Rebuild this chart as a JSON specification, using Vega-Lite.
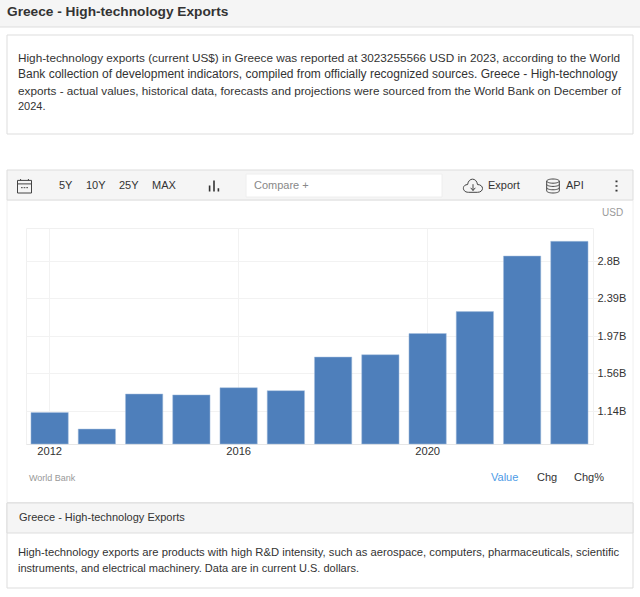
{
  "$schema": "https://vega.github.io/schema/vega-lite/v6.json",
  "width": 567,
  "height": 216,
  "autosize": {"type": "none"},
  "padding": {"left": 26, "top": 228, "right": 47, "bottom": 153},
  "background": "#ffffff",
  "view": {"stroke": "#f0f0f0", "fill": "#ffffff"},
  "config": {
    "font": "Liberation Sans",
    "text": {"font": "Liberation Sans", "fontSize": 11, "color": "#333333", "align": "left", "baseline": "middle"},
    "point": {"filled": false, "opacity": 1}
  },
  "resolve": {"scale": {"x": "independent", "y": "independent"}},
  "layer": [
    {
      "data": {"values": [{"page": "chrome"}]},
      "layer": [
        {"mark": {"type": "rect", "opacity": 0}, "encoding": {
          "x": {"datum": -10, "axis": null, "scale": {"domain": [-10, 650], "range": [-36, 624], "nice": false, "zero": false}},
          "x2": {"datum": 650},
          "y": {"datum": -10, "axis": null, "scale": {"domain": [-10, 600], "range": [-238, 372], "nice": false, "zero": false}},
          "y2": {"datum": 600}}},
        {"mark": {"type": "rect", "fill": "#f5f5f5", "stroke": "#dddddd"}, "encoding": {
          "x": {"datum": -2, "axis": null}, "x2": {"datum": 642}, "y": {"datum": -2, "axis": null}, "y2": {"datum": 27}}},
        {"mark": {"type": "rect", "fill": "#ffffff", "stroke": "#dddddd"}, "encoding": {
          "x": {"datum": 7, "axis": null}, "x2": {"datum": 633}, "y": {"datum": 35, "axis": null}, "y2": {"datum": 134}}},
        {"mark": {"type": "rect", "filled": false, "stroke": "#f0f0f0"}, "encoding": {
          "x": {"datum": 7, "axis": null}, "x2": {"datum": 633}, "y": {"datum": 200, "axis": null}, "y2": {"datum": 503}}},
        {"mark": {"type": "rect", "fill": "#f5f5f5", "stroke": "#dddddd"}, "encoding": {
          "x": {"datum": 7, "axis": null}, "x2": {"datum": 633}, "y": {"datum": 170, "axis": null}, "y2": {"datum": 200}}},
        {"mark": {"type": "rect", "fill": "#ffffff", "stroke": "#eeeeee"}, "encoding": {
          "x": {"datum": 246, "axis": null}, "x2": {"datum": 442}, "y": {"datum": 174, "axis": null}, "y2": {"datum": 197}}},
        {"mark": {"type": "rect", "fill": "#ffffff", "stroke": "#dddddd"}, "encoding": {
          "x": {"datum": 7, "axis": null}, "x2": {"datum": 633}, "y": {"datum": 503, "axis": null}, "y2": {"datum": 588}}},
        {"mark": {"type": "rect", "fill": "#f5f5f5", "stroke": "#dddddd"}, "encoding": {
          "x": {"datum": 7, "axis": null}, "x2": {"datum": 633}, "y": {"datum": 503, "axis": null}, "y2": {"datum": 533}}},

        {"mark": {"type": "text", "fontSize": 13.7, "fontWeight": "bold"}, "encoding": {
          "x": {"datum": 7, "axis": null}, "y": {"datum": 12, "axis": null}, "text": {"value": "Greece - High-technology Exports"}}},
        {"mark": {"type": "text", "fontSize": 11.78}, "encoding": {
          "x": {"datum": 18, "axis": null}, "y": {"datum": 58, "axis": null}, "text": {"value": "High-technology exports (current US$) in Greece was reported at 3023255566 USD in 2023, according to the World"}}},
        {"mark": {"type": "text", "fontSize": 12}, "encoding": {
          "x": {"datum": 18, "axis": null}, "y": {"datum": 74, "axis": null}, "text": {"value": "Bank collection of development indicators, compiled from officially recognized sources. Greece - High-technology"}}},
        {"mark": {"type": "text", "fontSize": 11.73}, "encoding": {
          "x": {"datum": 18, "axis": null}, "y": {"datum": 91, "axis": null}, "text": {"value": "exports - actual values, historical data, forecasts and projections were sourced from the World Bank on December of"}}},
        {"mark": {"type": "text"}, "encoding": {
          "x": {"datum": 18, "axis": null}, "y": {"datum": 107, "axis": null}, "text": {"value": "2024."}}},

        {"mark": {"type": "text"}, "encoding": {"x": {"datum": 59, "axis": null}, "y": {"datum": 186, "axis": null}, "text": {"value": "5Y"}}},
        {"mark": {"type": "text"}, "encoding": {"x": {"datum": 86, "axis": null}, "y": {"datum": 186, "axis": null}, "text": {"value": "10Y"}}},
        {"mark": {"type": "text"}, "encoding": {"x": {"datum": 119, "axis": null}, "y": {"datum": 186, "axis": null}, "text": {"value": "25Y"}}},
        {"mark": {"type": "text"}, "encoding": {"x": {"datum": 152, "axis": null}, "y": {"datum": 186, "axis": null}, "text": {"value": "MAX"}}},
        {"mark": {"type": "text", "color": "#888888"}, "encoding": {"x": {"datum": 254, "axis": null}, "y": {"datum": 186, "axis": null}, "text": {"value": "Compare +"}}},
        {"mark": {"type": "text"}, "encoding": {"x": {"datum": 488, "axis": null}, "y": {"datum": 186, "axis": null}, "text": {"value": "Export"}}},
        {"mark": {"type": "text"}, "encoding": {"x": {"datum": 566, "axis": null}, "y": {"datum": 186, "axis": null}, "text": {"value": "API"}}},

        {"mark": {"type": "point", "stroke": "#444444", "strokeWidth": 1, "shape": "M-.5,-.4H.5V.5H-.5Z M-.5,-.15H.5 M-.28,-.5V-.4 M.28,-.5V-.4 M-.25,.12H-.13 M-.06,.12H.06 M.13,.12H.25", "size": 784}, "encoding": {
          "x": {"datum": 24.5, "axis": null}, "y": {"datum": 186, "axis": null}}},
        {"mark": {"type": "point", "stroke": "#333333", "strokeWidth": 1.6, "shape": "M-.4,.5V-.05 M0,.5V-.5 M.4,.5V.2", "size": 484}, "encoding": {
          "x": {"datum": 214, "axis": null}, "y": {"datum": 186, "axis": null}}},
        {"mark": {"type": "point", "stroke": "#444444", "strokeWidth": 1, "shape": "M-.25,.35C-.62,.35 -.62,-.08 -.3,-.08C-.25,-.48 .2,-.48 .25,-.08C.62,-.08 .62,.35 .25,.35Z M0,-.1V.25 M-.13,.1L0,.25L.13,.1", "size": 1296}, "encoding": {
          "x": {"datum": 473, "axis": null}, "y": {"datum": 186, "axis": null}}},
        {"mark": {"type": "point", "stroke": "#444444", "strokeWidth": 1, "shape": "M-.45,-.35A.45,.15 0 1 1 .45,-.35A.45,.15 0 1 1 -.45,-.35 M-.45,-.35V.35A.45,.15 0 0 0 .45,.35V-.35 M-.45,-.12A.45,.15 0 0 0 .45,-.12 M-.45,.12A.45,.15 0 0 0 .45,.12", "size": 784}, "encoding": {
          "x": {"datum": 553, "axis": null}, "y": {"datum": 186, "axis": null}}},
        {"mark": {"type": "point", "stroke": "#333333", "strokeWidth": 2, "shape": "M0,-.5V-.35 M0,-.07V.07 M0,.35V.5", "size": 484}, "encoding": {
          "x": {"datum": 616.5, "axis": null}, "y": {"datum": 186, "axis": null}}},

        {"mark": {"type": "text", "color": "#999999", "fontSize": 10}, "encoding": {"x": {"datum": 602, "axis": null}, "y": {"datum": 213, "axis": null}, "text": {"value": "USD"}}},
        {"mark": {"type": "text", "color": "#999999", "fontSize": 9}, "encoding": {"x": {"datum": 29, "axis": null}, "y": {"datum": 478, "axis": null}, "text": {"value": "World Bank"}}},
        {"mark": {"type": "text", "color": "#4d9be6"}, "encoding": {"x": {"datum": 491, "axis": null}, "y": {"datum": 478, "axis": null}, "text": {"value": "Value"}}},
        {"mark": {"type": "text"}, "encoding": {"x": {"datum": 537, "axis": null}, "y": {"datum": 478, "axis": null}, "text": {"value": "Chg"}}},
        {"mark": {"type": "text"}, "encoding": {"x": {"datum": 574, "axis": null}, "y": {"datum": 478, "axis": null}, "text": {"value": "Chg%"}}},
        {"mark": {"type": "text"}, "encoding": {"x": {"datum": 19, "axis": null}, "y": {"datum": 518, "axis": null}, "text": {"value": "Greece - High-technology Exports"}}},
        {"mark": {"type": "text", "fontSize": 11.24}, "encoding": {"x": {"datum": 18, "axis": null}, "y": {"datum": 553, "axis": null}, "text": {"value": "High-technology exports are products with high R&D intensity, such as aerospace, computers, pharmaceuticals, scientific"}}},
        {"mark": {"type": "text"}, "encoding": {"x": {"datum": 18, "axis": null}, "y": {"datum": 569, "axis": null}, "text": {"value": "instruments, and electrical machinery. Data are in current U.S. dollars."}}}
      ]
    },
    {
      "data": {"values": [
        {"year": 2012, "value": 1124000000},
        {"year": 2013, "value": 940000000},
        {"year": 2014, "value": 1329000000},
        {"year": 2015, "value": 1319000000},
        {"year": 2016, "value": 1399000000},
        {"year": 2017, "value": 1366000000},
        {"year": 2018, "value": 1739000000},
        {"year": 2019, "value": 1765000000},
        {"year": 2020, "value": 2000000000},
        {"year": 2021, "value": 2243000000},
        {"year": 2022, "value": 2860000000},
        {"year": 2023, "value": 3023255566}
      ]},
      "mark": {"type": "bar", "color": "#4e7fbb", "stroke": "#a9c0de", "strokeWidth": 0.5},
      "encoding": {
        "x": {
          "field": "year",
          "type": "ordinal",
          "scale": {"paddingInner": 0.21, "paddingOuter": 0.105},
          "axis": {
            "title": null,
            "orient": "bottom",
            "values": [2012, 2016, 2020],
            "labelAngle": 0,
            "labelColor": "#333333",
            "labelFontSize": 11.2,
            "labelFont": "Liberation Sans",
            "labelPadding": 1,
            "ticks": false,
            "domainColor": "#e6e6e6",
            "grid": true,
            "gridColor": "#f2f2f2"
          }
        },
        "y": {
          "field": "value",
          "type": "quantitative",
          "scale": {"domain": [774000000, 3171000000], "zero": false, "nice": false},
          "axis": {
            "title": null,
            "orient": "right",
            "values": [1140000000, 1560000000, 1970000000, 2390000000, 2800000000],
            "labelExpr": "format(datum.value / 1e9, '.3~f') + 'B'",
            "labelColor": "#333333",
            "labelFontSize": 11,
            "labelFont": "Liberation Sans",
            "labelPadding": -3,
            "tickSize": 7,
            "tickColor": "#f2f2f2",
            "domain": false,
            "grid": true,
            "gridColor": "#f2f2f2"
          }
        },
        "y2": {"datum": 774000000}
      }
    }
  ]
}
